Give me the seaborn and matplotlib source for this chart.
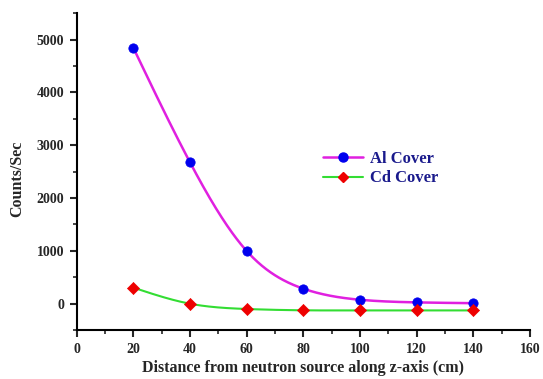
import numpy as np
import pandas as pd
import matplotlib
matplotlib.use("Agg")
import matplotlib.pyplot as plt
from matplotlib.lines import Line2D
from matplotlib.ticker import MultipleLocator
import seaborn as sns

distance = [20, 40, 60, 80, 100, 120, 140]
al_cover = [4850, 2680, 1000, 285, 75, 25, 10]
cd_cover = [305, 0, -100, -125, -127, -127, -127]

sns.set_style("white")
plt.rcParams["font.family"] = ["Liberation Serif", "DejaVu Serif"]
plt.rcParams["font.weight"] = "bold"


def natural_spline(x, y, n=400):
    """Natural cubic spline interpolation through the data points."""
    x = np.asarray(x, float)
    y = np.asarray(y, float)
    N = len(x)
    h = np.diff(x)
    A = np.zeros((N, N))
    b = np.zeros(N)
    A[0, 0] = A[-1, -1] = 1.0
    for i in range(1, N - 1):
        A[i, i - 1] = h[i - 1]
        A[i, i] = 2 * (h[i - 1] + h[i])
        A[i, i + 1] = h[i]
        b[i] = 6 * ((y[i + 1] - y[i]) / h[i] - (y[i] - y[i - 1]) / h[i - 1])
    M = np.linalg.solve(A, b)
    xs = np.linspace(x[0], x[-1], n)
    idx = np.clip(np.searchsorted(x, xs) - 1, 0, N - 2)
    x0, x1 = x[idx], x[idx + 1]
    hh = h[idx]
    ys = (M[idx] * (x1 - xs) ** 3 / (6 * hh) + M[idx + 1] * (xs - x0) ** 3 / (6 * hh)
          + (y[idx] / hh - M[idx] * hh / 6) * (x1 - xs)
          + (y[idx + 1] / hh - M[idx + 1] * hh / 6) * (xs - x0))
    return xs, ys


xa, ya = natural_spline(distance, al_cover)
xc, yc = natural_spline(distance, cd_cover)

fig = plt.figure(figsize=(5.43, 3.79), dpi=100)
ax = fig.add_axes([0.141, 0.129, 0.835, 0.836])

sns.lineplot(x=xa, y=ya, ax=ax, color="#e020e0", linewidth=1.8, sort=False)
sns.lineplot(x=xc, y=yc, ax=ax, color="#33dd33", linewidth=1.5, sort=False)
df = pd.DataFrame({"d": distance, "al": al_cover, "cd": cd_cover})
sns.scatterplot(data=df, x="d", y="al", ax=ax, color="#0000ee", marker="o",
                s=45, edgecolor="#0000ee", zorder=5)
sns.scatterplot(data=df, x="d", y="cd", ax=ax, color="#ee0000", marker="D",
                s=38, edgecolor="#ee0000", zorder=5)

ax.set_xlim(0, 160)
ax.set_ylim(-500, 5500)
ax.xaxis.set_major_locator(MultipleLocator(20))
ax.xaxis.set_minor_locator(MultipleLocator(10))
ax.yaxis.set_major_locator(MultipleLocator(1000))
ax.yaxis.set_minor_locator(MultipleLocator(500))
ax.tick_params(which="major", direction="out", length=5, width=1.5,
               labelsize=10, bottom=True, left=True, pad=4)
ax.tick_params(which="minor", direction="out", length=3, width=1.2,
               bottom=True, left=True)
for lab in ax.get_xticklabels() + ax.get_yticklabels():
    lab.set_fontweight("bold")

for s in ["top", "right"]:
    ax.spines[s].set_visible(False)
for s in ["left", "bottom"]:
    ax.spines[s].set_linewidth(1.5)
    ax.spines[s].set_color("black")

ax.set_xlabel("Distance from neutron source along z-axis (cm)",
              fontsize=11.5, fontweight="bold", labelpad=3)
ax.set_ylabel("Counts/Sec", fontsize=11.5, fontweight="bold")
ax.yaxis.set_label_coords(-0.114, 0.477)

handles = [
    Line2D([0], [0], color="#e020e0", lw=1.8, marker="o", markersize=6.5,
           markerfacecolor="#0000ee", markeredgecolor="#0000ee"),
    Line2D([0], [0], color="#33dd33", lw=1.5, marker="D", markersize=5.5,
           markerfacecolor="#ee0000", markeredgecolor="#ee0000"),
]
leg = ax.legend(handles, ["Al Cover", "Cd Cover"], loc="upper left",
                bbox_to_anchor=(0.5105, 0.6126), frameon=False,
                prop={"weight": "bold", "size": 12}, handlelength=2.4,
                handletextpad=0.4, labelspacing=0.2)
for t in leg.get_texts():
    t.set_color("#1a1a8c")

fig.savefig("out.png", dpi=100)
